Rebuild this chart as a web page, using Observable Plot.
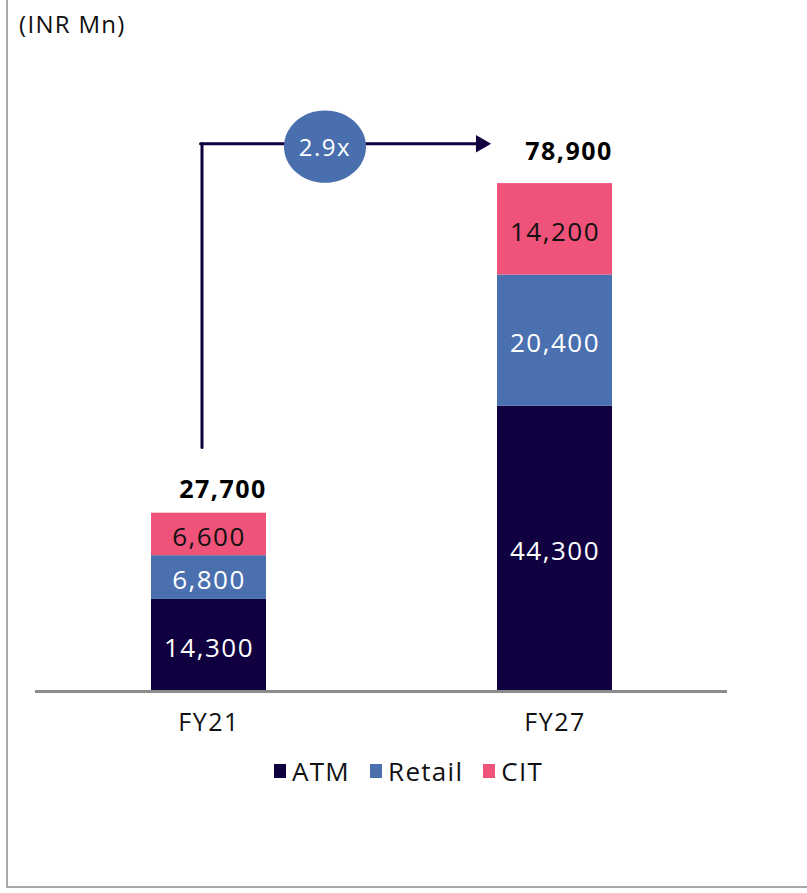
<!DOCTYPE html>
<html>
<head>
<meta charset="utf-8">
<script src="https://cdn.jsdelivr.net/npm/d3@7"></script>
<script src="https://cdn.jsdelivr.net/npm/@observablehq/plot@0.6"></script>
<style>
  body { margin: 0; background: #fff; font-family: "Open Sans", Lato, sans-serif; }
  #wrap { position: relative; width: 807px; height: 893px; overflow: hidden; }
  #frame { position: absolute; left: 6px; top: -4px; width: 820px; height: 892px;
           border-left: 2px solid #a8a8a8; border-bottom: 2px solid #a8a8a8; box-sizing: border-box; }
  #unit { position: absolute; left: 19px; top: 7px; font-size: 24px; color: #111; letter-spacing: 1.3px; }
  #chart { position: absolute; left: 0; top: 0; }
  #chart svg text { letter-spacing: 1.5px; }
  #legend { position: absolute; top: 753px; left: 274px; display: flex; align-items: center;
            font-size: 26px; color: #111; letter-spacing: 1.3px; }
  #legend .item { display: flex; align-items: center; margin-right: 20px; }
  #legend .sw { width: 12px; height: 14px; margin-right: 6px; }
</style>
</head>
<body>
<div id="wrap">
  <div id="frame"></div>
  <div id="chart"></div>
  <div id="unit">(INR Mn)</div>
  <div id="legend"></div>
</div>
<script>
const years = ["FY21", "FY27"];
const seriesNames = ["ATM", "Retail", "CIT"];
const atmValues = [14300, 44300];
const retailValues = [6800, 20400];
const citValues = [6600, 14200];
const totals = [27700, 78900];
const growthLabel = "2.9x";
const seriesColors = ["#10003f", "#4a70b0", "#ef5379"];
const labelColors = ["#ffffff", "#ffffff", "#111111"];

const seriesValues = [atmValues, retailValues, citValues];
const rows = [];
seriesNames.forEach((s, si) => {
  years.forEach((y, yi) => rows.push({year: y, series: s, value: seriesValues[si][yi]}));
});
const totalRows = years.map((y, i) => ({year: y, total: totals[i]}));

const arrowTop = 85100;
const arrowStart = 37900;
const lineColor = "#10003f";

const ellipseSymbol = {
  draw(ctx, size) {
    const r = Math.sqrt(size / Math.PI);
    const rx = r, ry = r * 0.88, k = 0.5523;
    ctx.moveTo(rx, 0);
    ctx.bezierCurveTo(rx, ry * k, rx * k, ry, 0, ry);
    ctx.bezierCurveTo(-rx * k, ry, -rx, ry * k, -rx, 0);
    ctx.bezierCurveTo(-rx, -ry * k, -rx * k, -ry, 0, -ry);
    ctx.bezierCurveTo(rx * k, -ry, rx, -ry * k, rx, 0);
    ctx.closePath();
  }
};

const plot = Plot.plot({
  width: 807,
  height: 740,
  marginLeft: 35,
  marginRight: 80,
  marginTop: 176,
  marginBottom: 49,
  style: {fontFamily: "'Open Sans', Lato, sans-serif", background: "transparent", overflow: "visible"},
  x: {domain: years, paddingInner: 0.668, paddingOuter: 0.334, label: null},
  y: {domain: [0, 80000], axis: null},
  color: {domain: seriesNames, range: seriesColors},
  marks: [
    Plot.barY(rows, {x: "year", y: "value", fill: "series", order: seriesNames}),
    Plot.text(rows, Plot.stackY({x: "year", y: "value", z: "series", order: seriesNames,
      text: d => d3.format(",")(d.value),
      fill: d => labelColors[seriesNames.indexOf(d.series)],
      dy: 3, fontSize: 26})),
    Plot.ruleY([0], {stroke: "#8c8c8c", strokeWidth: 3}),
    Plot.axisX({tickSize: 0, tickPadding: 22, fontSize: 25, color: "#111"}),
    Plot.text(totalRows.filter(d => d.year === "FY21"), {x: "year", y: "total", text: d => d3.format(",")(d.total),
      dx: 14, dy: -23, fontSize: 25, fontWeight: "bold", fill: "#000"}),
    Plot.text(totalRows.filter(d => d.year === "FY27"), {x: "year", y: "total", text: d => d3.format(",")(d.total),
      dx: 14, dy: -32, fontSize: 25, fontWeight: "bold", fill: "#000"}),
    Plot.arrow([0], {x1: () => years[0], x2: () => years[0], y1: () => arrowStart, y2: () => arrowTop,
      dx: -7, headLength: 0, stroke: lineColor, strokeWidth: 3}),
    Plot.arrow([0], {x1: () => years[0], x2: () => years[1], y1: () => arrowTop, y2: () => arrowTop,
      dx: -7, headLength: 0, insetStart: -1.5, insetEnd: 69, stroke: lineColor, strokeWidth: 3}),
    Plot.dot([0], {x: () => years[1], y: () => arrowTop, dx: -74, symbol: "triangle", rotate: 90, r: 6.5,
      fill: lineColor, stroke: "none"}),
    Plot.dot([0], {x: () => years[0], y: () => arrowTop, dx: 116, dy: 3, symbol: ellipseSymbol, r: 41,
      fill: "#4a6fae", stroke: "none"}),
    Plot.text([growthLabel], {x: () => years[0], y: () => arrowTop, dx: 116, dy: 5, text: d => d,
      fill: "#fff", fontSize: 24})
  ]
});
document.getElementById("chart").appendChild(plot);

const legend = document.getElementById("legend");
seriesNames.forEach((s, i) => {
  const item = document.createElement("div");
  item.className = "item";
  const sw = document.createElement("div");
  sw.className = "sw";
  sw.style.background = seriesColors[i];
  const t = document.createElement("span");
  t.textContent = s;
  item.appendChild(sw);
  item.appendChild(t);
  legend.appendChild(item);
});
</script>
</body>
</html>
